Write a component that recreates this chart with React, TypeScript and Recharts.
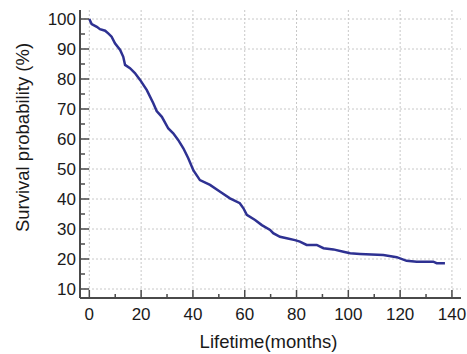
import { CartesianGrid, Label, Line, LineChart, XAxis, YAxis } from "recharts"

// Kaplan-Meier estimate (months, % surviving)
const months = [
  0, 0.9, 2.9, 4.1, 6.1, 7.3, 8.6, 9.9, 11.9, 13.1, 13.8, 15.7, 17.6, 19.6, 22.2,
  24.7, 26, 28, 30.5, 32.4, 34.3, 36.3, 38.2, 40.2, 42.7, 46.6, 50.5, 54.3, 58.1,
  59.5, 60.8, 64, 66.6, 69.8, 71, 73.6, 76.2, 79.4, 81.3, 83.9, 87.8, 90.4, 94.2,
  98.1, 100.7, 104.5, 113.5, 118.7, 122.5, 126.4, 132.8, 134.1, 137.3,
]
const survival = [
  100, 98.3, 97.4, 96.6, 96.1, 95.2, 94.1, 91.9, 89.7, 87.4, 84.7, 83.6, 82, 79.7,
  76.3, 71.9, 69.3, 67.4, 63.5, 61.9, 59.7, 56.9, 53.6, 49.5, 46.3, 44.7, 42.4,
  40.2, 38.6, 36.9, 34.7, 33, 31.3, 29.7, 28.6, 27.4, 26.9, 26.3, 25.8, 24.7, 24.7,
  23.6, 23.2, 22.4, 21.9, 21.7, 21.3, 20.6, 19.4, 19.1, 19.1, 18.6, 18.6,
]

const xTicks = [0, 10, 20, 30, 40, 50, 60, 70, 80, 90, 100, 110, 120, 130, 140]
const yTicks = [10, 15, 20, 25, 30, 35, 40, 45, 50, 55, 60, 65, 70, 75, 80, 85, 90, 95, 100]
const xGrid = [0, 20, 40, 60, 80, 100, 120, 140]
const yGrid = [10, 20, 30, 40, 50, 60, 70, 80, 90, 100]

const data = months.map((m, i) => ({ month: m, survival: survival[i] }))

const axisColor = "#4a4a4a"
const font = "'Liberation Sans', Arial, sans-serif"

function XTick(props: any) {
  const { x, y, payload } = props
  const major = payload.value % 20 === 0
  return (
    <g>
      <line x1={x} x2={x} y1={y} y2={y - (major ? 8 : 4)} stroke={axisColor} strokeWidth={1.5} />
      {major && (
        <text x={x} y={y + 22} textAnchor="middle" fontSize={17} fontFamily={font} fill="#1a1a1a">
          {payload.value}
        </text>
      )}
    </g>
  )
}

function YTick(props: any) {
  const { x, y, payload } = props
  const major = payload.value % 10 === 0
  return (
    <g>
      <line x1={x} x2={x + (major ? 9 : 5)} y1={y} y2={y} stroke={axisColor} strokeWidth={1.5} />
      {major && (
        <text x={x - 4} y={y + 6} textAnchor="end" fontSize={17} fontFamily={font} fill="#1a1a1a">
          {payload.value}
        </text>
      )}
    </g>
  )
}

export default function App() {
  return (
    <div style={{ position: "absolute", left: 0, top: 0, width: 467, height: 354, background: "#fff" }}>
      <style>{"html,body{margin:0;overflow:hidden}"}</style>
      <LineChart
        width={467}
        height={354}
        data={data}
        margin={{ top: 10, right: 6, left: 0, bottom: 0 }}
        style={{ overflow: "visible" }}
      >
        <CartesianGrid
          stroke="#c8c8c8"
          strokeDasharray="2 2"
          horizontalValues={yGrid}
          verticalValues={xGrid}
        />
        <XAxis
          dataKey="month"
          type="number"
          domain={[-3.6, 143.5]}
          ticks={xTicks}
          allowDataOverflow
          height={56}
          tickSize={0}
          tickMargin={0}
          tickLine={false}
          interval={0}
          axisLine={{ stroke: axisColor, strokeWidth: 2 }}
          tick={<XTick />}
        >
          <Label
            content={() => (
              <text x={268.5} y={348} textAnchor="middle" fontSize={18.5} fontFamily={font} fill="#1a1a1a">
                Lifetime(months)
              </text>
            )}
          />
        </XAxis>
        <YAxis
          type="number"
          domain={[7, 103]}
          ticks={yTicks}
          allowDataOverflow
          width={80}
          tickSize={0}
          tickMargin={0}
          tickLine={false}
          interval={0}
          axisLine={{ stroke: axisColor, strokeWidth: 2 }}
          tick={<YTick />}
        >
          <Label
            content={() => (
              <text
                x={29}
                y={137.5}
                textAnchor="middle"
                fontSize={18.5}
                fontFamily={font}
                fill="#1a1a1a"
                transform="rotate(-90 29 137.5)"
              >
                Survival probability (%)
              </text>
            )}
          />
        </YAxis>
        <Line
          type="linear"
          dataKey="survival"
          stroke="#2e3192"
          strokeWidth={2.5}
          dot={false}
          isAnimationActive={false}
        />
      </LineChart>
    </div>
  )
}
